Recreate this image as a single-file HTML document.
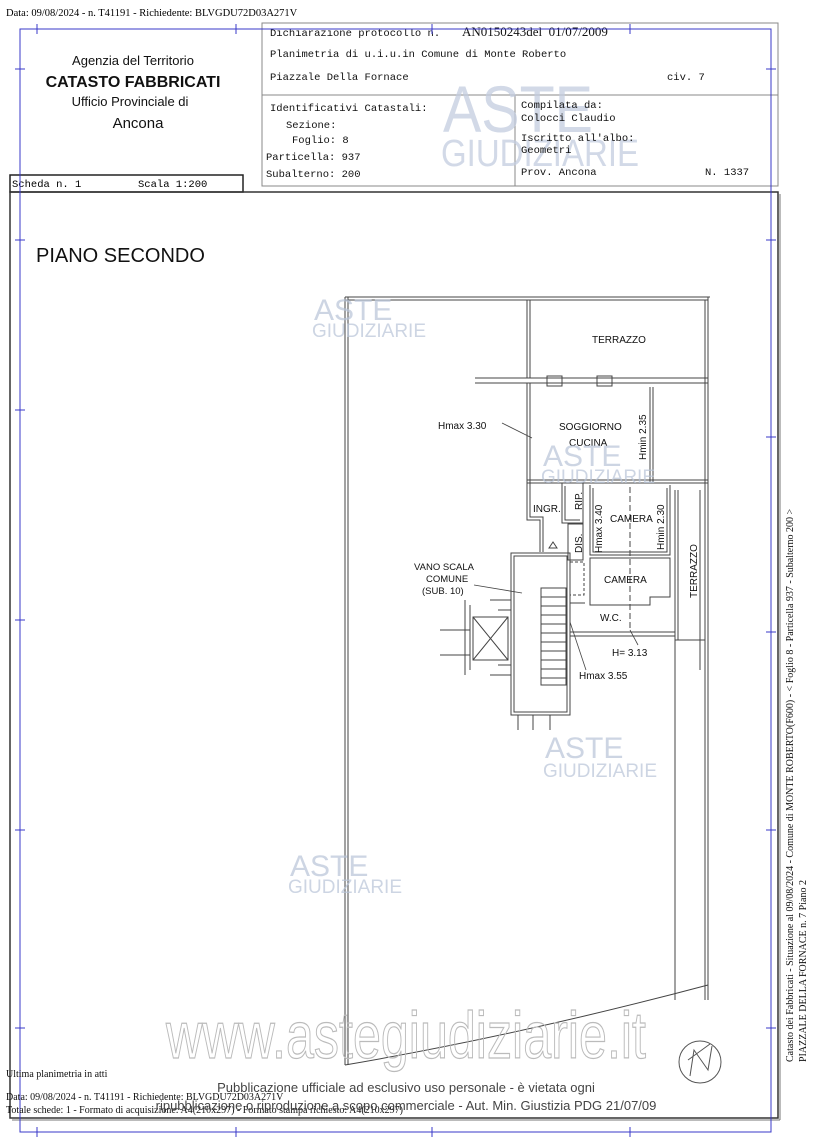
<!DOCTYPE html>
<html><head><meta charset="utf-8"><style>
body{margin:0;background:#fff;}
svg{display:block;}
.s{font-family:"Liberation Serif",serif;}
.m{font-family:"Liberation Mono",monospace;}
.a{font-family:"Liberation Sans",sans-serif;}
</style></head><body>
<svg width="814" height="1143" viewBox="0 0 814 1143" xmlns="http://www.w3.org/2000/svg">
<rect width="814" height="1143" fill="#fff"/>
<text x="6" y="16" class="s" font-size="10.5">Data: 09/08/2024 - n. T41191 - Richiedente: BLVGDU72D03A271V</text>
<rect x="262" y="23" width="516" height="163" fill="none" stroke="#888" stroke-width="1"/>
<line x1="262" y1="95" x2="778" y2="95" stroke="#888"/>
<line x1="515" y1="95" x2="515" y2="186" stroke="#888"/>
<g class="a" text-anchor="middle" fill="#111">
<text x="133" y="65" font-size="13">Agenzia del Territorio</text>
<text x="133" y="87" font-size="16" font-weight="bold">CATASTO FABBRICATI</text>
<text x="130" y="106" font-size="13">Ufficio Provinciale di</text>
<text x="138" y="128" font-size="15">Ancona</text>
</g>
<g class="a" fill="#c3cde0" opacity="0.75">
<text x="443" y="132" font-size="66" textLength="150" lengthAdjust="spacingAndGlyphs">ASTE</text>
<text x="441" y="166" font-size="38" textLength="198" lengthAdjust="spacingAndGlyphs">GIUDIZIARIE</text>
</g>
<g class="m" font-size="10.5" fill="#111">
<text x="270" y="36">Dichiarazione protocollo n.</text>
<text x="462" y="36" class="s" font-size="13">AN0150243del&#160;&#160;01/07/2009</text>
<text x="270" y="57">Planimetria di u.i.u.in Comune di Monte Roberto</text>
<text x="270" y="80">Piazzale Della Fornace</text>
<text x="667" y="80">civ. 7</text>
<text x="270" y="111">Identificativi Catastali:</text>
<text x="286" y="128">Sezione:</text>
<text x="292" y="143">Foglio: 8</text>
<text x="266" y="160">Particella: 937</text>
<text x="266" y="177">Subalterno: 200</text>
<text x="521" y="108">Compilata da:</text>
<text x="521" y="121">Colocci Claudio</text>
<text x="521" y="141">Iscritto all'albo:</text>
<text x="521" y="153">Geometri</text>
<text x="521" y="175">Prov. Ancona</text>
<text x="705" y="175">N. 1337</text>
</g>
<rect x="10" y="175" width="233" height="17" fill="none" stroke="#222" stroke-width="1.5"/>
<text x="12" y="187" class="m" font-size="10.5">Scheda n. 1</text>
<text x="138" y="187" class="m" font-size="10.5">Scala 1:200</text>
<rect x="10" y="192" width="768" height="926" fill="none" stroke="#333" stroke-width="1.5"/>
<line x1="12" y1="1120" x2="780" y2="1120" stroke="#777" stroke-width="1"/>
<line x1="780" y1="194" x2="780" y2="1120" stroke="#777" stroke-width="1"/>
<g stroke="#3838c8" stroke-width="1" fill="none">
<rect x="20" y="29" width="751" height="1103"/>
<path d="M37 24v10M236 24v10M432 24v10M630 24v10M37 1127v10M236 1127v10M432 1127v10M630 1127v10"/>
<path d="M15 69h10M15 240h10M15 410h10M15 620h10M15 830h10M15 1028h10"/>
<path d="M766 69h10M766 240h10M766 437h10M766 632h10M766 830h10M766 1028h10"/>
</g>
<text x="36" y="262" class="a" font-size="20" fill="#111">PIANO SECONDO</text>
<g stroke="#444" stroke-width="1" fill="none">
<path d="M345 297 V1065"/><path d="M348 297 V1065"/>
<path d="M345 297 H710 M345 300 H708"/>
<path d="M705 300 V1000 M708 297 V1000"/>
<path d="M345 1065 Q520 1035 708 985"/>
<path d="M527 300 V378 M530 300 V378"/>
<path d="M475 378 H708 M475 383 H708"/>
<path d="M547 376h15v10h-15z M597 376h15v10h-15z"/>
<path d="M527 383 V520 H540 V552 M530 383 V517 H543 V552"/>
<path d="M650 387 V482 M653 387 V482"/>
<path d="M527 480 H708 M527 483 H708"/>
<path d="M562 483 V523 H583 V483 M565 486 V520 H580"/>
<path d="M568 524 H583 V560 H568 Z"/>
<path d="M570 562 H584 V595 H570 Z" stroke-dasharray="3,2"/>
<path d="M590 485 V555 H670 V485 M593 488 V552 H667 V488"/>
<path d="M590 558 V605 H650 V597 H670 V558 Z"/>
<path d="M567 600 V632 M570 603 V632"/>
<path d="M570 603 H585 M570 632 H675 M570 636 H675"/>
<path d="M630 487 V630" stroke-dasharray="6,3"/>
<path d="M675 490 V640 M678 490 V640 M700 490 V640 M675 640 H705"/>
<path d="M675 640 V670 M700 640 V670"/>
<path d="M511 553 H570 V715 H511 Z M514 556 H567 V712 H514 Z"/>
<rect x="541" y="588" width="25" height="97"/>
<path d="M541 597h25M541 606h25M541 615h25M541 624h25M541 633h25M541 642h25M541 651h25M541 660h25M541 669h25M541 678h25"/>
<path d="M549 548 L553 542 L557 548 Z"/>
<rect x="473" y="617" width="35" height="43"/><path d="M473 617 L508 660 M508 617 L473 660"/>
<path d="M440 630 H470 M440 655 H470 M465 600 V675 M470 605 V670 M490 600 H511 M490 675 H511"/>
<path d="M498 665 H511 M498 610 H511"/>
<path d="M518 715 V730 M533 715 V730 M550 715 V730"/>
<path d="M675 640 V1000"/>
</g>
<g stroke="#444" stroke-width="0.8">
<path d="M502 423 L532 438"/><path d="M474 585 L522 593"/>
<path d="M570 622 L586 670"/><path d="M630 630 L638 645"/>
</g>
<g class="a" font-size="10" fill="#111">
<text x="592" y="343">TERRAZZO</text>
<text x="438" y="429">Hmax 3.30</text>
<text x="559" y="430">SOGGIORNO</text>
<text x="569" y="446">CUCINA</text>
<text x="533" y="512">INGR.</text>
<text x="610" y="522">CAMERA</text>
<text x="604" y="583">CAMERA</text>
<text x="600" y="621">W.C.</text>
<text x="612" y="656">H= 3.13</text>
<text x="579" y="679">Hmax 3.55</text>
<text x="414" y="570" font-size="9.5">VANO SCALA</text>
<text x="426" y="582" font-size="9.5">COMUNE</text>
<text x="422" y="594" font-size="9.5">(SUB. 10)</text>
<text transform="translate(646,460) rotate(-90)">Hmin 2.35</text>
<text transform="translate(582,510) rotate(-90)">RIP.</text>
<text transform="translate(602,553) rotate(-90)">Hmax 3.40</text>
<text transform="translate(664,550) rotate(-90)">Hmin 2.30</text>
<text transform="translate(582,553) rotate(-90)">DIS.</text>
<text transform="translate(697,598) rotate(-90)">TERRAZZO</text>
</g>
<g class="a" fill="#b8c4d8" opacity="0.7">
<text x="314" y="320" font-size="30">ASTE</text><text x="312" y="337" font-size="19">GIUDIZIARIE</text>
<text x="543" y="466" font-size="30">ASTE</text><text x="541" y="483" font-size="19">GIUDIZIARIE</text>
<text x="545" y="758" font-size="30">ASTE</text><text x="543" y="777" font-size="19">GIUDIZIARIE</text>
<text x="290" y="876" font-size="30">ASTE</text><text x="288" y="893" font-size="19">GIUDIZIARIE</text>
</g>
<text x="166" y="1058" class="a" font-size="66" fill="none" stroke="#bbb" stroke-width="1.2" textLength="480" lengthAdjust="spacingAndGlyphs">www.astegiudiziarie.it</text>
<circle cx="700" cy="1062" r="21" fill="none" stroke="#555"/>
<path d="M690 1076 L694 1050 L708 1070 L712 1046 M688 1060 L710 1044" stroke="#555" fill="none"/>
<g class="s" font-size="10" fill="#111">
<text x="6" y="1077">Ultima planimetria in atti</text>
<text x="6" y="1100">Data: 09/08/2024 - n. T41191 - Richiedente: BLVGDU72D03A271V</text>
<text x="6" y="1113">Totale schede: 1 - Formato di acquisizione: A4(210x297) - Formato stampa richiesto: A4(210x297)</text>
</g>
<g class="a" font-size="13" fill="#444" text-anchor="middle">
<text x="406" y="1092">Pubblicazione ufficiale ad esclusivo uso personale - è vietata ogni</text>
<text x="406" y="1110">ripubblicazione o riproduzione a scopo commerciale - Aut. Min. Giustizia PDG 21/07/09</text>
</g>
<g class="s" font-size="10" fill="#111">
<text transform="translate(793,1062) rotate(-90)">Catasto dei Fabbricati - Situazione al 09/08/2024 - Comune di MONTE ROBERTO(F600) - &lt; Foglio 8 - Particella 937 - Subalterno 200 &gt;</text>
<text transform="translate(806,1062) rotate(-90)">PIAZZALE DELLA FORNACE n. 7 Piano 2</text>
</g>
</svg>
</body></html>
